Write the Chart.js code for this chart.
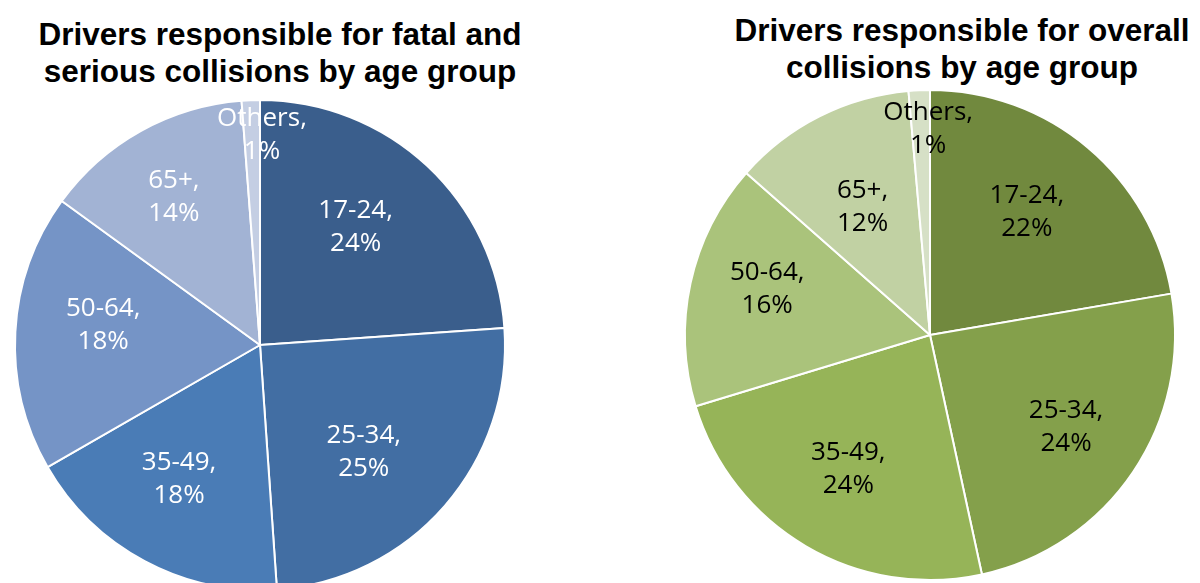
<!DOCTYPE html>
<html>
<head>
<meta charset="utf-8">
<script src="https://cdn.jsdelivr.net/npm/chart.js@4.4.1/dist/chart.umd.min.js"></script>
<style>
   body { margin: 0; background: #fff; overflow: hidden; width: 1200px; height: 583px; position: relative; }
   .title { position: absolute; font: bold 31.5px "Liberation Sans", Arial, sans-serif; line-height: 37px; text-align: center; color: #000; white-space: nowrap; }
   canvas { position: absolute; top: 0; }
</style>
</head>
<body>
<div class="title" style="left:0; top:16px; width:560px">Drivers responsible for fatal and<br>serious collisions by age group</div>
<div class="title" style="left:662px; top:12px; width:600px">Drivers responsible for overall<br>collisions by age group</div>
<canvas id="fatalChart" width="520" height="600" style="left:0"></canvas>
<canvas id="overallChart" width="520" height="600" style="left:670px"></canvas>
<script>
var ageGroups = ["17-24", "25-34", "35-49", "50-64", "65+", "Others"]
// shares in percent
var fatalSerious = [23.9, 25.0, 17.8, 18.3, 13.8, 1.2]
var overallShares = [22.3, 24.3, 23.7, 16.2, 12.1, 1.4]

var blues = ["#3A5E8C", "#426EA3", "#4A7CB6", "#7594C6", "#A2B3D4", "#C4CEE3"]
var greens = ["#71893E", "#84A04B", "#96B458", "#AAC37B", "#C1D1A3", "#D6E0C6"]

Chart.defaults.plugins.tooltip.enabled = false
Chart.defaults.plugins.legend.display = false
Chart.defaults.animation = false

// excel-like "category, value%" labels inside the slices
var sliceLabels = {
   id: "sliceLabels",
   afterDatasetsDraw: function (chart, args, opts) {
      var ctx = chart.ctx
      var meta = chart.getDatasetMeta(0)
      var values = chart.data.datasets[0].data
      ctx.save()
      ctx.fillStyle = opts.color
      ctx.font = "26px 'Open Sans', sans-serif"
      ctx.textAlign = "center"
      ctx.textBaseline = "middle"
      meta.data.forEach(function (arc, i) {
         var p = arc.getProps(["x", "y", "startAngle", "endAngle", "outerRadius"], true)
         var mid = (p.startAngle + p.endAngle) / 2 + opts.shift[i] * Math.PI / 180
         var r = p.outerRadius * opts.radius[i]
         var x = p.x + Math.cos(mid) * r
         var y = p.y + Math.sin(mid) * r
         ctx.fillText(chart.data.labels[i] + ",", x, y - 16.5)
         ctx.fillText(Math.round(values[i]) + "%", x, y + 16.5)
      })
      ctx.restore()
   },
}

function makePie(id, values, colors, pad, label) {
   return new Chart(document.getElementById(id), {
      type: "pie",
      data: {
         labels: ageGroups,
         datasets: [
            {
               data: values,
               backgroundColor: colors,
               borderColor: "#ffffff",
               borderWidth: 2,
            },
         ],
      },
      options: {
         responsive: false,
         layout: { padding: pad },
         plugins: {
            sliceLabels: label,
         },
      },
      plugins: [sliceLabels],
   })
}

makePie("fatalChart", fatalSerious, blues,
   { left: 14, right: 14, top: 99, bottom: 9 },
   { color: "#ffffff", radius: [0.62, 0.61, 0.64, 0.645, 0.7, 0.855], shift: [-4, 5, 3, 4, -1, 2.7] })

makePie("overallChart", overallShares, greens,
   { left: 14, right: 14, top: 89, bottom: 19 },
   { color: "#000000", radius: [0.64, 0.67, 0.64, 0.69, 0.59, 0.84], shift: [-2, 0, 1, 3.4, -1, 2] })
</script>
</body>
</html>
